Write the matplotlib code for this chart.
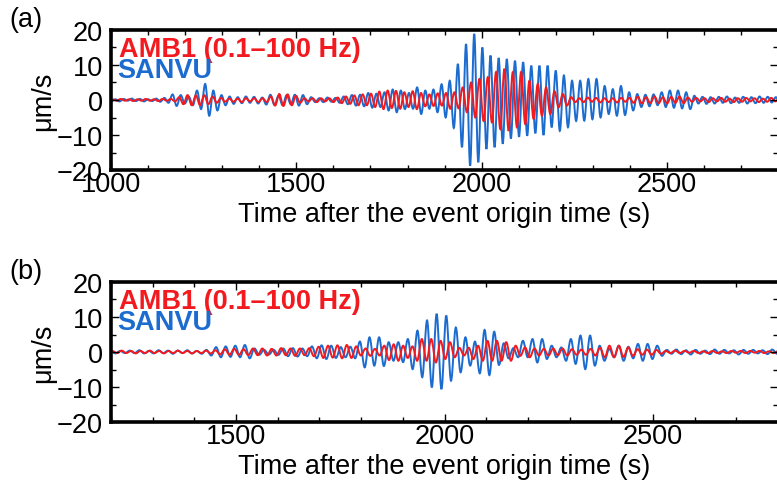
import numpy as np
import matplotlib
matplotlib.use("Agg")
import matplotlib.pyplot as plt
from matplotlib.path import Path
from matplotlib.patches import PathPatch
from matplotlib.ticker import MultipleLocator

plt.rcParams['font.family'] = ['Liberation Sans', 'DejaVu Sans']

# picked peaks / troughs of the traces (um/s), regular half-period sampling
# panel (a)
blue_a_t0, blue_a_dt = 1001, 11.0
blue_a = [-0.3, 0.2, -0.4, 0.3, -0.2, 0.4, -0.3, 0.3, -0.4, 0.2,
          -0.3, 0.4, -0.5, 0.6, -0.8, 1.6, -1.7, 1.4, -1.0, 0.9,
          -1.5, 2.7, -2.6, 4.6, -4.5, 2.7, -3.0, 1.4, -1.5, 1.0,
          -1.1, 0.8, -0.9, 1.0, -0.8, 0.9, -1.0, 0.7, -1.3, 1.5,
          -1.4, 1.2, -1.5, 1.4, -1.2, 1.5, -1.6, 1.4, -1.2, 0.8,
          -0.6, 0.5, -0.6, 0.7, -0.5, 0.6, -0.8, 1.0, -1.2, 1.4,
          -1.6, 1.5, -1.8, 2.0, -2.2, 1.8, -2.0, 2.2, -3.0, 3.0,
          -3.5, 2.7, -2.6, 2.0, -2.5, 3.6, -4.0, 2.7, -2.5, 3.0,
          -3.5, 4.5, -5.0, 5.5, -8.0, 10.3, -13.5, 16.0, -18.8, 18.9,
          -17.8, 15.0, -14.0, 12.7, -13.5, 12.0, -12.5, 11.7, -11.0, 11.2,
          -10.5, 10.8, -10.2, 9.8, -9.5, 9.8, -10.0, 9.8, -7.8, 8.4,
          -8.8, 7.0, -7.8, 5.5, -6.0, 5.5, -5.9, 6.0, -5.5, 6.0,
          -5.0, 4.0, -4.0, 3.1, -4.5, 4.0, -4.3, 2.2, -3.0, 1.7,
          -2.0, 1.5, -1.8, 1.6, -1.5, 2.2, -2.0, 2.7, -2.2, 2.7,
          -2.4, 2.2, -2.6, 1.2, -1.0, 0.9, -1.1, 0.8, -1.0, 0.9,
          -0.8, 1.0, -0.9, 0.7, -0.8, 0.9, -1.0, 0.8, -0.9, 1.0,
          -0.8, 0.9, -0.7, 0.8, -0.6]

red_a_t0, red_a_dt = 1004, 11.25
red_a = [0.2, -0.2, 0.3, -0.2, 0.2, -0.3, 0.2, -0.2, 0.3, -0.2,
         0.2, -0.3, 0.3, -0.2, 0.3, -0.4, 0.8, -1.2, 1.4, -1.5,
         1.3, -1.5, 1.4, -1.2, 1.0, -0.8, 0.6, -0.5, 0.4, -0.5,
         0.4, -0.6, 0.5, -0.4, 0.5, -0.6, 0.5, -0.6, 1.0, -1.6,
         1.7, -1.7, 1.6, -1.5, 1.2, -0.8, 0.5, -0.4, 0.5, -0.6,
         0.5, -0.4, 0.5, -0.6, 0.7, -0.9, 1.0, -1.1, 1.3, -1.5,
         1.6, -1.5, 1.8, -2.0, 2.4, -2.6, 2.7, -2.3, 2.6, -2.5,
         2.2, -2.0, 2.5, -2.6, 2.0, -1.8, 1.6, -1.7, 1.9, -1.6,
         2.0, -2.5, 2.2, -2.4, 3.6, -3.5, 5.0, -5.0, 6.0, -6.0,
         6.5, -6.4, 8.0, -8.3, 8.9, -8.8, 7.9, -7.8, 8.0, -6.9,
         5.5, -5.4, 4.6, -4.5, 3.6, -4.0, 2.5, -2.1, 1.7, -1.6,
         0.8, -0.6, 0.5, -0.6, 0.7, -0.5, 0.6, -0.7, 0.5, -0.6,
         0.5, -0.7, 0.6, -0.5, 0.6, -0.8, 0.9, -1.0, 0.8, -0.9,
         1.0, -0.9, 0.8, -1.0, 0.9, -0.8, 1.0, -0.9, 0.7, -0.5,
         0.6, -0.4, 0.5, -0.6, 0.5, -0.4, 0.6, -0.5, 0.4, -0.6,
         0.5, -0.5, 0.6, -0.4, 0.5, -0.6, 0.4, -0.5, 0.6, -0.4,
         0.5]

# panel (b)
blue_b_t0, blue_b_dt = 1199, 11.5
blue_b = [0.3, -0.4, 0.3, -0.3, 0.4, -0.3, 0.5, -0.4, 0.3, -0.4,
          0.5, -0.3, 0.4, -0.5, 0.4, -0.3, 0.5, -0.4, 0.3, -0.5,
          0.6, -1.0, 1.4, -1.5, 1.6, -1.4, 1.8, -1.5, 2.0, -1.8,
          1.0, -0.8, 0.6, -0.7, 0.6, -0.8, 1.0, -1.2, 1.1, -1.3,
          1.0, -1.2, 1.6, -1.8, 1.9, -2.0, 1.8, -1.7, 1.4, -1.5,
          1.5, -1.8, 3.0, -4.4, 4.2, -3.9, 4.2, -4.0, 2.8, -2.5,
          2.8, -2.9, 3.7, -4.9, 6.1, -7.2, 9.0, -10.1, 10.9, -10.6,
          10.4, -8.2, 7.0, -5.8, 4.2, -3.9, 3.0, -6.1, 6.3, -6.6,
          5.8, -3.7, 2.5, -1.8, 1.1, -1.5, 3.2, -1.5, 3.7, -3.0,
          3.7, -2.0, 1.8, -1.5, 1.3, -2.5, 3.7, -3.4, 4.7, -4.9,
          4.7, -3.9, 1.8, -2.5, 0.9, -1.5, 1.8, -2.5, 1.5, -1.8,
          2.3, -2.5, 2.3, -2.0, 1.8, -1.1, 0.6, -0.5, 0.7, -0.6,
          0.5, -0.7, 0.6, -0.5, 0.4, -0.6, 0.7, -0.5, 0.6, -0.4,
          0.5, -0.7, 0.6, -0.5, 0.6, -0.4, 0.5, -0.6, 0.7, -0.5,
          0.4]

red_b_t0, red_b_dt = 1203, 11.25
red_b = [0.3, -0.3, 0.4, -0.3, 0.3, -0.4, 0.3, -0.3, 0.4, -0.3,
         0.3, -0.4, 0.3, -0.3, 0.4, -0.3, 0.3, -0.4, 0.3, -0.3,
         0.4, -0.4, 0.5, -0.7, 0.8, -0.8, 0.9, -0.8, 0.8, -0.9,
         1.0, -0.9, 1.0, -1.0, 0.9, -1.0, 1.1, -0.9, 1.0, -1.1,
         1.0, -0.9, 1.1, -1.2, 1.5, -1.7, 1.8, -1.6, 1.9, -1.8,
         2.0, -1.7, 1.6, -1.0, 1.0, -1.1, 0.9, -1.0, 1.8, -2.3,
         2.2, -2.5, 1.8, -1.7, 1.6, -2.5, 3.7, -2.5, 3.7, -3.0,
         3.2, -2.0, 2.8, -1.5, 1.2, -1.0, 1.2, -2.0, 1.8, -2.5,
         3.2, -2.5, 3.2, -2.5, 2.8, -2.5, 1.8, -1.1, 1.3, -1.5,
         1.0, -1.0, 0.9, -1.0, 1.0, -0.9, 1.0, -1.0, 0.8, -0.8,
         0.7, -0.8, 0.9, -1.0, 1.2, -1.5, 1.8, -1.5, 1.8, -1.4,
         1.3, -1.1, 0.8, -0.8, 0.7, -0.8, 0.6, -0.5, 0.3, -0.3,
         0.4, -0.3, 0.3, -0.2, 0.3, -0.3, 0.2, -0.3, 0.3, -0.3,
         0.2, -0.3, 0.3, -0.2, 0.3, -0.3, 0.3, -0.2, 0.3, -0.3,
         0.2, -0.3, 0.3]

RED = '#f21a1e'
BLUE = '#1c6cd0'
FS = 19.5


def trace(ax, t0, dt, vals, color):
    # smooth curve through the picked extrema (flat tangent at each peak)
    t = t0 + dt * np.arange(len(vals))
    verts = [(t[0], vals[0])]
    codes = [Path.MOVETO]
    h = 0.36 * dt
    for k in range(1, len(vals)):
        verts += [(t[k - 1] + h, vals[k - 1]), (t[k] - h, vals[k]), (t[k], vals[k])]
        codes += [Path.CURVE4] * 3
    ax.add_patch(PathPatch(Path(verts, codes), fill=False, edgecolor=color, lw=1.4))


def draw_panel(ax, blue, bt0, bdt, red, rt0, rdt, xlim, letter):
    trace(ax, bt0, bdt, blue, BLUE)
    trace(ax, rt0, rdt, red, RED)
    ax.set_xlim(*xlim)
    ax.set_ylim(-20, 20)
    ax.xaxis.set_major_locator(MultipleLocator(500))
    ax.xaxis.set_minor_locator(MultipleLocator(100))
    ax.yaxis.set_major_locator(MultipleLocator(10))
    ax.yaxis.set_minor_locator(MultipleLocator(5))
    ax.tick_params(which='both', direction='in', top=True, right=True,
                   labelsize=FS, width=1.0)
    ax.tick_params(which='major', length=6)
    ax.tick_params(which='minor', length=3.5)
    ax.tick_params(axis='x', pad=1)
    ax.tick_params(axis='y', pad=6)
    for s in ax.spines.values():
        s.set_linewidth(2.6)
    ax.set_xlabel('Time after the event origin time (s)', fontsize=FS, labelpad=2.5)
    ax.set_ylabel('μm/s', fontsize=FS, labelpad=0)
    ax.text(0.012, 0.96, 'AMB1 (0.1–100 Hz)', transform=ax.transAxes,
            color=RED, fontsize=19.5, fontweight='bold', va='top', ha='left')
    ax.text(0.009, 0.81, 'SANVU', transform=ax.transAxes,
            color=BLUE, fontsize=19.5, fontweight='bold', va='top', ha='left')
    ax.text(-0.152, 1.17, letter, transform=ax.transAxes, fontsize=FS,
            va='top', ha='left')


fig = plt.figure(figsize=(7.77, 4.85), dpi=100, facecolor='white')
ax1 = fig.add_axes([0.1429, 0.6474, 0.8585, 0.2887])
ax2 = fig.add_axes([0.1429, 0.1278, 0.8585, 0.2887])
draw_panel(ax1, blue_a, blue_a_t0, blue_a_dt, red_a, red_a_t0, red_a_dt,
           (1000, 2800), '(a)')
draw_panel(ax2, blue_b, blue_b_t0, blue_b_dt, red_b, red_b_t0, red_b_dt,
           (1200, 2800), '(b)')
fig.savefig('out.png', dpi=100)
